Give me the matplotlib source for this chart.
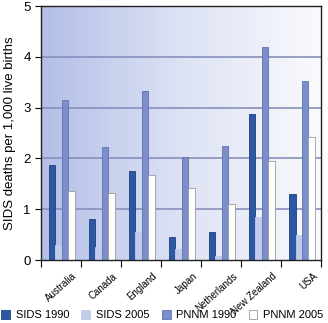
import numpy as np
import matplotlib.pyplot as plt
from matplotlib.colors import LinearSegmentedColormap
from matplotlib.patches import Patch
from matplotlib import font_manager

plt.rcParams['font.family'] = ['Liberation Sans', 'DejaVu Sans']

countries = ["Australia", "Canada", "England", "Japan", "Netherlands", "New Zealand", "USA"]
sids_1990 = [1.87, 0.80, 1.75, 0.45, 0.55, 2.88, 1.30]
sids_2005 = [0.30, 0.25, 0.55, 0.22, 0.08, 0.85, 0.50]
pnnm_1990 = [3.15, 2.22, 3.32, 2.02, 2.25, 4.20, 3.52]
pnnm_2005 = [1.35, 1.32, 1.68, 1.42, 1.10, 1.95, 2.42]

series = [
    ("SIDS 1990", sids_1990, "#2c57a3", "#1e3f80"),
    ("SIDS 2005", sids_2005, "#c3cbeb", "#c3cbeb"),
    ("PNNM 1990", pnnm_1990, "#7d8fcb", "#5f72b3"),
    ("PNNM 2005", pnnm_2005, "#ffffff", "#9a9a9a"),
]

# narrow font for the rotated country names, if available
names = {f.name for f in font_manager.fontManager.ttflist}
narrow = 'Liberation Sans Narrow' if 'Liberation Sans Narrow' in names else 'Liberation Sans'

fig = plt.figure(figsize=(3.28, 3.23), dpi=100)
ax = fig.add_axes([0.125, 0.195, 0.854, 0.786])

# gradient background
cmap = LinearSegmentedColormap.from_list("bg", ["#b3bfe7", "#dde2f4", "#fafbfe"])
grad = np.linspace(0, 1, 256).reshape(1, -1)
ax.imshow(grad, cmap=cmap, aspect="auto", extent=[0, 7, 0, 5], zorder=0)

for y in [1, 2, 3, 4]:
    ax.axhline(y, color="#8790bd", linewidth=1.2, zorder=1)

x = np.arange(len(countries)) + 0.5
w = 0.16
for j, (name, vals, fc, ec) in enumerate(series):
    ax.bar(x + (j - 1.5) * w + 0.02, vals, width=w, color=fc, edgecolor=ec,
           linewidth=0.6, zorder=2)

ax.set_xlim(0, 7)
ax.set_ylim(0, 5)
ax.set_xticks(np.arange(0, 8))
ax.set_xticklabels([])
ax.set_xticks(x + 0.28, minor=True)
ax.set_xticklabels(countries, minor=True, rotation=42, ha="right",
                   rotation_mode="anchor", fontsize=7.0, family=narrow)
ax.tick_params(axis="x", which="major", length=5, width=0.8)
ax.tick_params(axis="x", which="minor", length=0, pad=8)
ax.set_yticks([0, 1, 2, 3, 4, 5])
ax.tick_params(axis="y", length=4, width=0.8, labelsize=9.5)
ax.set_ylabel("SIDS deaths per 1,000 live births", fontsize=9.5, labelpad=5)
for s in ax.spines.values():
    s.set_linewidth(1.0)
    s.set_color("#222222")

handles = [Patch(facecolor=fc, edgecolor=ec, linewidth=0.6) for _, _, fc, ec in series]
fig.legend(handles, [s[0] for s in series], loc="lower left", ncol=4,
           frameon=False, fontsize=8, handlelength=0.8, handleheight=0.8,
           handletextpad=0.5, columnspacing=1.1, borderpad=0, borderaxespad=0,
           bbox_to_anchor=(0.004, 0.008))

fig.savefig("out.png", dpi=100)
